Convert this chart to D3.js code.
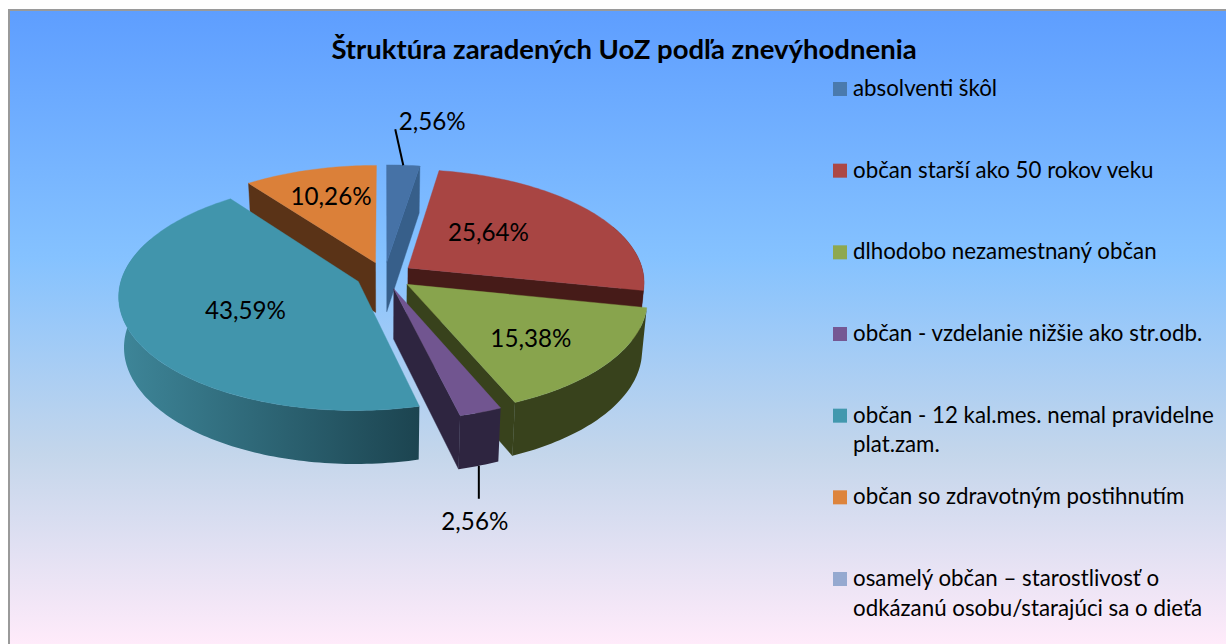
<!DOCTYPE html>
<html>
<head>
<meta charset="utf-8">
<script src="https://cdn.jsdelivr.net/npm/d3@7"></script>
<style>
html,body{margin:0;padding:0;background:#fff;overflow:hidden}
svg{display:block}
text{font-family:Lato,"Noto Sans",sans-serif;fill:#000}
</style>
</head>
<body>
<svg id="c" width="1226" height="644"></svg>
<script>
// ---- data ----
const titleText = "Štruktúra zaradených UoZ podľa znevýhodnenia";
const categories = [
  ["absolventi škôl"],
  ["občan starší ako 50 rokov veku"],
  ["dlhodobo nezamestnaný občan"],
  ["občan - vzdelanie nižšie ako str.odb."],
  ["občan - 12 kal.mes. nemal pravidelne","plat.zam."],
  ["občan so zdravotným postihnutím"],
  ["osamelý občan – starostlivosť o","odkázanú osobu/starajúci sa o dieťa"]
];
const values = [2.56, 25.64, 15.38, 2.56, 43.59, 10.26, 0];
const valueLabels = ["2,56%","25,64%","15,38%","2,56%","43,59%","10,26%",""];

// ---- styles ----
const topColors  = ["#4672a6","#a84543","#88a44d","#715590","#4195ac","#db8039","#95a9d0"];
const legendColors = ["#4a7aad","#ac4845","#8ea84f","#755893","#4298ae","#dd843c","#95a9d0"];
const wallColors = ["#375f8a","#461b18","#38421c","#2e2540","#1c4450","#5a3317","#6d7c99"];
const wallLeftColors = ["#375f8a","#461b18","#38421c","#2e2540","#3e8699","#5a3317","#6d7c99"];
const labelNudge = [[0,0],[-12,-5],[27,17],[0,0],[-2,5],[-10,-17],[0,0]];
const outsideLabel = {0:{lx:-8,ly:-36,tx:29,ty:-43}, 3:{ly:33,tx:-4,ty:56}};

// ---- projection of the tilted pie ----
const cx=384.5, cy=275.6, A=236, B=112, persp=0.12, explode=0.122, H=50, shrink=0.02;
function project(x,y,z){
  const w=1+persp*y;
  const X=cx+A*x/w*(1-shrink*z);
  const Y=cy-B*y/w+z*H/Math.sqrt(w);
  return [X,Y];
}

const svg=d3.select("#c");
const defs=svg.append("defs");
const bg=defs.append("linearGradient").attr("id","bg").attr("x1",0).attr("y1",0).attr("x2",0).attr("y2",1);
[[0,"#5e9eff"],[.39,"#85c2ff"],[.70,"#c4d6eb"],[1,"#ffebfa"]].forEach(s=>bg.append("stop").attr("offset",s[0]).attr("stop-color",s[1]));

svg.append("rect").attr("x",8).attr("y",9).attr("width",1218).attr("height",635).attr("fill","#9a9a9a");
svg.append("rect").attr("x",10).attr("y",11).attr("width",1216).attr("height",633).attr("fill","url(#bg)");

svg.append("text").attr("x",624).attr("y",59).attr("text-anchor","middle")
  .attr("font-weight",700).attr("font-size",27.5).text(titleText);

const pie=d3.pie().sort(null).startAngle(0).endAngle(2*Math.PI);
const slices=pie(values).map((d,i)=>{
  const mid=(d.startAngle+d.endAngle)/2;
  return {...d,i,mid,ax:explode*Math.sin(mid),ay:explode*Math.cos(mid)};
}).filter(d=>d.value>0);

const line=d3.line();
const rimPt=(s,t)=>[s.ax+Math.sin(t),s.ay+Math.cos(t)];
const rim=(s,a,b,z)=>{
  const n=Math.max(2,Math.ceil(Math.abs(b-a)/0.02));
  return d3.range(n+1).map(k=>{const t=a+(b-a)*k/n;const p=rimPt(s,t);return project(p[0],p[1],z);});
};

const order=slices.slice().sort((a,b)=>Math.cos(b.mid)-Math.cos(a.mid));
const g=svg.append("g");
order.forEach(s=>{
  const a=s.startAngle,b=s.endAngle,i=s.i;
  const apex0=project(s.ax,s.ay,0),apex1=project(s.ax,s.ay,1);
  // radial cut faces
  [[a,-Math.sin(a)],[b,Math.sin(b)]].forEach(f=>{
    if(f[1]>1e-6){
      const p=rimPt(s,f[0]);
      g.append("path").attr("fill",wallColors[i]).attr("stroke",wallColors[i]).attr("stroke-width",.4)
       .attr("d",line([apex0,project(p[0],p[1],0),project(p[0],p[1],1),apex1])+"Z");
    }
  });
  // curved outer wall; runs a little past the sides so the silhouette tangent is covered
  const lo=Math.max(a,Math.PI/2-.4),hi=Math.min(b,3*Math.PI/2+.4);
  if(hi>lo){
    const top=rim(s,lo,hi,0),bot=rim(s,lo,hi,1);
    const gid="w"+i;
    const xs=top.concat(bot).map(p=>p[0]);
    const gr=defs.append("linearGradient").attr("id",gid).attr("gradientUnits","userSpaceOnUse")
      .attr("x1",d3.min(xs)).attr("x2",d3.max(xs)).attr("y1",0).attr("y2",0);
    gr.append("stop").attr("offset",0).attr("stop-color",wallLeftColors[i]);
    gr.append("stop").attr("offset",1).attr("stop-color",wallColors[i]);
    g.append("path").attr("fill",`url(#${gid})`)
     .attr("d",line(top.concat(bot.reverse()))+"Z");
  }
  // top face
  g.append("path").attr("fill",topColors[i]).attr("stroke",topColors[i]).attr("stroke-width",.4)
   .attr("d",line([apex0].concat(rim(s,a,b,0)))+"Z");
});

// data labels
slices.forEach(s=>{
  const i=s.i, out=outsideLabel[i];
  if(out){
    const p=rimPt(s,s.mid);
    const isBack=Math.cos(s.mid)>0;
    const a=project(p[0],p[1],isBack?0:1);
    const end=isBack?[a[0]+out.lx,a[1]+out.ly]:[a[0],a[1]+out.ly];
    svg.append("path").attr("d",line([a,end])).attr("stroke","#000").attr("stroke-width",2).attr("fill","none");
    svg.append("text").attr("x",a[0]+out.tx).attr("y",a[1]+out.ty+8).attr("text-anchor","middle")
      .attr("font-size",24.2).text(valueLabels[i]);
  } else {
    const q=project(s.ax+.5*Math.sin(s.mid),s.ay+.5*Math.cos(s.mid),0);
    svg.append("text").attr("x",q[0]+labelNudge[i][0]).attr("y",q[1]+labelNudge[i][1]+8).attr("text-anchor","middle")
      .attr("font-size",24.2).text(valueLabels[i]);
  }
});

// legend
const ly=d3.scalePoint().domain(d3.range(categories.length)).range([89,579]);
categories.forEach((lines,i)=>{
  const y=ly(i);
  svg.append("rect").attr("x",833).attr("y",y-7).attr("width",14).attr("height",14).attr("fill",legendColors[i]);
  lines.forEach((t,k)=>{
    svg.append("text").attr("x",853).attr("y",y+7+k*29.5).attr("font-size",22.3).text(t);
  });
});
</script>
</body>
</html>
